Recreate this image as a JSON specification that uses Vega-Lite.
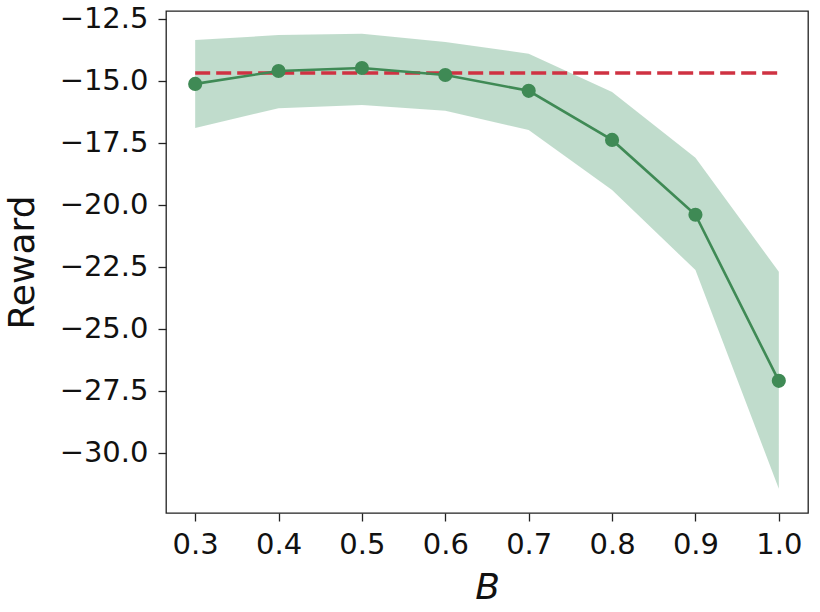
{
  "$schema": "https://vega.github.io/schema/vega-lite/v6.json",
  "width": 642,
  "height": 502,
  "autosize": {"type": "none"},
  "padding": {"left": 166, "top": 11, "right": 12, "bottom": 99},
  "background": "white",
  "config": {
    "view": {"stroke": "#222", "strokeWidth": 1.3},
    "axis": {
      "grid": false,
      "domain": false,
      "ticks": true,
      "tickSize": 8,
      "tickWidth": 1.3,
      "tickColor": "#222",
      "labelFont": "DejaVu Sans",
      "labelFontSize": 29,
      "labelColor": "#111",
      "titleFont": "DejaVu Sans",
      "titleFontSize": 36,
      "titleFontWeight": "normal",
      "titleColor": "#111"
    }
  },
  "data": {
    "values": [
      {"B": 0.3, "mean": -15.12, "lo": -16.9, "hi": -13.35},
      {"B": 0.4, "mean": -14.6, "lo": -16.1, "hi": -13.15},
      {"B": 0.5, "mean": -14.48, "lo": -15.97, "hi": -13.1},
      {"B": 0.6, "mean": -14.76, "lo": -16.2, "hi": -13.43},
      {"B": 0.7, "mean": -15.4, "lo": -16.98, "hi": -13.9},
      {"B": 0.8, "mean": -17.38, "lo": -19.4, "hi": -15.45},
      {"B": 0.9, "mean": -20.4, "lo": -22.63, "hi": -18.1},
      {"B": 1.0, "mean": -27.1, "lo": -31.45, "hi": -22.7}
    ]
  },
  "layer": [
    {
      "mark": {"type": "area", "color": "#2E8B57", "opacity": 0.3},
      "encoding": {
        "x": {
          "field": "B", "type": "quantitative",
          "scale": {"domain": [0.265, 1.035], "nice": false, "zero": false},
          "axis": {
            "values": [0.3, 0.4, 0.5, 0.6, 0.7, 0.8, 0.9, 1.0],
            "format": ".1f",
            "labelPadding": 9,
            "title": "B",
            "titleFontStyle": "italic",
            "titleY": 85,
            "titleBaseline": "alphabetic"
          }
        },
        "y": {
          "field": "lo", "type": "quantitative",
          "scale": {"domain": [-32.43, -12.18], "nice": false, "zero": false},
          "axis": {
            "values": [-12.5, -15, -17.5, -20, -22.5, -25, -27.5, -30],
            "format": ".1f",
            "labelPadding": 10,
            "title": "Reward",
            "titleX": -144,
            "titleBaseline": "middle",
            "titleAngle": -90
          }
        },
        "y2": {"field": "hi"}
      }
    },
    {
      "data": {"values": [{"x1": 0.3, "x2": 1.0, "y": -14.68}]},
      "mark": {"type": "rule", "color": "#cf3242", "strokeWidth": 3.5, "strokeDash": [15, 6]},
      "encoding": {
        "x": {"field": "x1", "type": "quantitative"},
        "x2": {"field": "x2"},
        "y": {"field": "y", "type": "quantitative"}
      }
    },
    {
      "mark": {"type": "line", "color": "#3f8a55", "strokeWidth": 2.6},
      "encoding": {
        "x": {"field": "B", "type": "quantitative"},
        "y": {"field": "mean", "type": "quantitative"}
      }
    },
    {
      "mark": {"type": "point", "filled": true, "shape": "circle", "color": "#3f8a55", "opacity": 1, "size": 200},
      "encoding": {
        "x": {"field": "B", "type": "quantitative"},
        "y": {"field": "mean", "type": "quantitative"}
      }
    }
  ]
}
